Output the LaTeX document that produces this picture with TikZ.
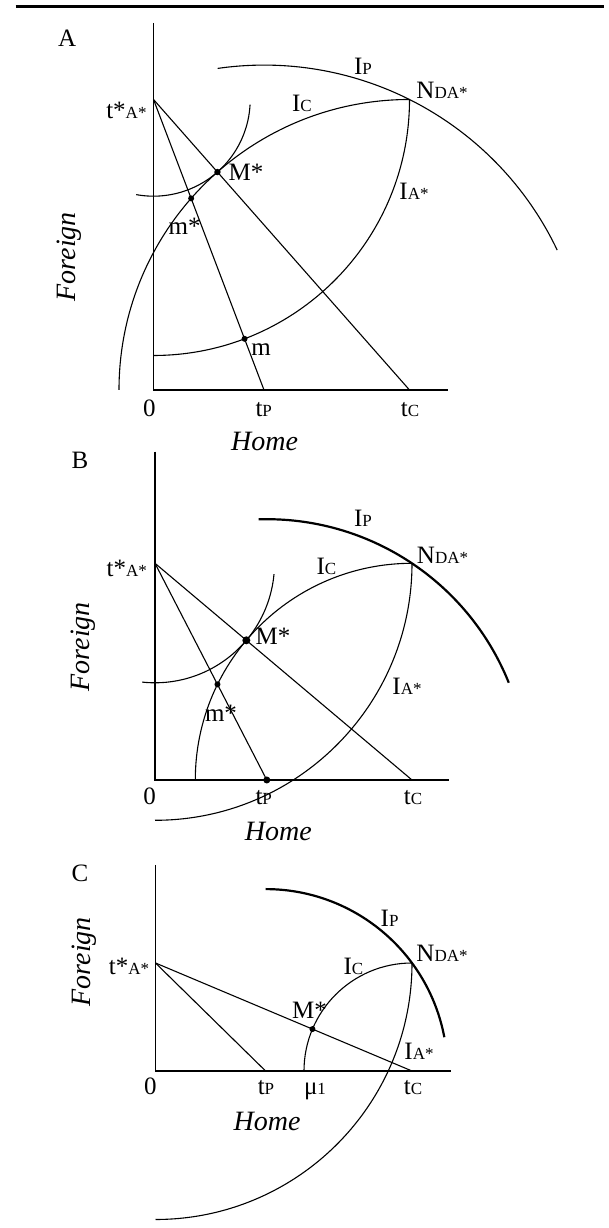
\documentclass[tikz,border=0pt]{standalone}
\usepackage{fontspec}
\setmainfont{Liberation Serif}
\usetikzlibrary{calc,intersections}
\newcommand\sbx[1]{{\fontsize{17}{19}\selectfont #1}}
\tikzset{
  lab/.style={font=\fontsize{25}{29}\selectfont, inner sep=0pt},
  axl/.style={font=\fontsize{28}{32}\selectfont\itshape, inner sep=0pt},
  curve/.style={line width=1.1pt},
  ipbold/.style={line width=2.2pt},
  axisline/.style={line width=1.6pt},
  dotmark/.style={fill=black}
}
\begin{document}
\begin{tikzpicture}[x=1pt,y=1pt]
\useasboundingbox (0,0) rectangle (609,1228);
\coordinate (r1) at (15.6,1221.5);
\coordinate (r2) at (603.5,1221.5);
\draw[line width=3pt] (r1) -- (r2);

% ---------------- Panel A ----------------
\begin{scope}[shift={(153.5,838)}]
\coordinate (aO) at (0,0);
\coordinate (aY) at (0,367);
\coordinate (aX) at (294.5,0);
\coordinate (ats) at (0,290.5);
\coordinate (atp) at (110.5,0);
\coordinate (atc) at (256,0);
\coordinate (aN) at (256,290.5);
\draw[axisline] (aY) -- (aO) -- (aX);
\draw[curve, name path=alp] (ats) -- (atp);
\draw[curve] (ats) -- (atc);
\draw[curve, name path=aic] (aN) arc[start angle=90, end angle=180, radius=290.5pt];
\draw[curve, name path=aia] (aN) arc[start angle=0, end angle=-90, radius=256pt];
\draw[curve] (ats) ++(259.7:96.7) arc[start angle=259.7, end angle=357, radius=96.7pt];
\draw[curve] (atp) ++(98.2:324.9) arc[start angle=98.2, end angle=25.5, radius=324.9pt];
\coordinate (aM) at ($(atc)!290.5pt!(ats)$);
\path[name intersections={of=alp and aic, by=ams}];
\path[name intersections={of=alp and aia, by=am}];
\fill[dotmark] (aM) circle[radius=3.2pt];
\fill[dotmark] (ams) circle[radius=3pt];
\fill[dotmark] (am) circle[radius=3pt];
\end{scope}
\node[lab] (lA) at (67.2,1190) {A};
\node[lab] (lAip) at (363,1161.3) {I\sbx{P}};
\node[lab] (lAn) at (442,1138) {N\sbx{DA*}};
\node[lab] (lAic) at (302,1124.7) {I\sbx{C}};
\node[lab] (lAts) at (126.4,1118) {t*\sbx{A*}};
\node[lab] (lAM) at (246,1055.7) {M*};
\node[lab] (lAia) at (414,1036.3) {I\sbx{A*}};
\node[lab] (lAms) at (184.6,1001.3) {m*};
\node[lab] (lAm) at (261,878.7) {m};
\node[lab, anchor=base] (lA0) at (149.4,811.5) {0};
\node[lab, anchor=base] (lAtp) at (263.7,811.5) {t\sbx{P}};
\node[lab, anchor=base] (lAtc) at (410,811.5) {t\sbx{C}};
\node[axl] (lAh) at (264.6,786.3) {Home};
\node[axl, rotate=90] (lAf) at (69,971.3) {Foreign};

% ---------------- Panel B ----------------
\begin{scope}[shift={(155,448)}]
\coordinate (bO) at (0,0);
\coordinate (bY) at (0,328.3);
\coordinate (bX) at (294,0);
\coordinate (bts) at (0,216.7);
\coordinate (btp) at (111.8,0);
\coordinate (btc) at (257,0);
\coordinate (bN) at (257,216.7);
\draw[axisline] (bY) -- (bO) -- (bX);
\draw[curve, name path=blp] (bts) -- (btp);
\draw[curve] (bts) -- (btc);
\draw[curve, name path=bic] (bN) arc[start angle=90, end angle=180, radius=216.7pt];
\draw[curve] (bN) arc[start angle=0, end angle=-90, radius=257pt];
\draw[curve] (bts) ++(263.8:119.5) arc[start angle=263.8, end angle=354.8, radius=119.5pt];
\draw[ipbold] (btp) ++(91.8:260.8) arc[start angle=91.8, end angle=21.9, radius=260.8pt];
\coordinate (bM) at ($(btc)!216.7pt!(bts)$);
\path[name intersections={of=blp and bic, by=bms}];
\fill[dotmark] (bM) circle[radius=4pt];
\fill[dotmark] (bms) circle[radius=3pt];
\fill[dotmark] (btp) circle[radius=3.5pt];
\end{scope}
\node[lab] (lB) at (80,768) {B};
\node[lab] (lBip) at (363,709.7) {I\sbx{P}};
\node[lab] (lBn) at (442.5,673) {N\sbx{DA*}};
\node[lab] (lBic) at (326.5,661.3) {I\sbx{C}};
\node[lab] (lBts) at (126.8,659.7) {t*\sbx{A*}};
\node[lab] (lBM) at (273,591.3) {M*};
\node[lab] (lBia) at (407,541.3) {I\sbx{A*}};
\node[lab] (lBms) at (221,514.7) {m*};
\node[lab, anchor=base] (lB0) at (149.6,423) {0};
\node[lab, anchor=base] (lBtp) at (263.7,423) {t\sbx{P}};
\node[lab, anchor=base] (lBtc) at (413,423) {t\sbx{C}};
\node[axl] (lBh) at (278.3,396.3) {Home};
\node[axl, rotate=90] (lBf) at (82.8,581.3) {Foreign};

% ---------------- Panel C ----------------
\begin{scope}[shift={(155.5,157)}]
\coordinate (cO) at (0,0);
\coordinate (cY) at (0,206);
\coordinate (cX) at (295.5,0);
\coordinate (cts) at (0,108);
\coordinate (ctp) at (110.1,0);
\coordinate (ctc) at (256.5,0);
\coordinate (cN) at (256.5,108);
\draw[axisline] (cY) -- (cO) -- (cX);
\draw[curve] (cts) -- (ctp);
\draw[curve] (cts) -- (ctc);
\draw[curve] (cN) arc[start angle=90, end angle=180, radius=108pt];
\draw[curve] (cN) arc[start angle=0, end angle=-90, radius=256.5pt];
\draw[ipbold] (ctp) ++(90:181.9) arc[start angle=90, end angle=10.7, radius=181.9pt];
\coordinate (cM) at ($(ctc)!108pt!(cts)$);
\fill[dotmark] (cM) circle[radius=3pt];
\end{scope}
\node[lab] (lC) at (80,354.7) {C};
\node[lab] (lCip) at (389.6,309.7) {I\sbx{P}};
\node[lab] (lCn) at (442,274.7) {N\sbx{DA*}};
\node[lab] (lCic) at (353.5,261.3) {I\sbx{C}};
\node[lab] (lCts) at (129,261.3) {t*\sbx{A*}};
\node[lab] (lCM) at (309.6,218) {M*};
\node[lab] (lCia) at (419,176.3) {I\sbx{A*}};
\node[lab, anchor=base] (lC0) at (150.4,133) {0};
\node[lab, anchor=base] (lCtp) at (266,133) {t\sbx{P}};
\node[lab, anchor=base] (lCmu) at (315,133) {μ\sbx{1}};
\node[lab, anchor=base] (lCtc) at (413,133) {t\sbx{C}};
\node[axl] (lCh) at (267,106.3) {Home};
\node[axl, rotate=90] (lCf) at (84,266.3) {Foreign};
\end{tikzpicture}
\end{document}
